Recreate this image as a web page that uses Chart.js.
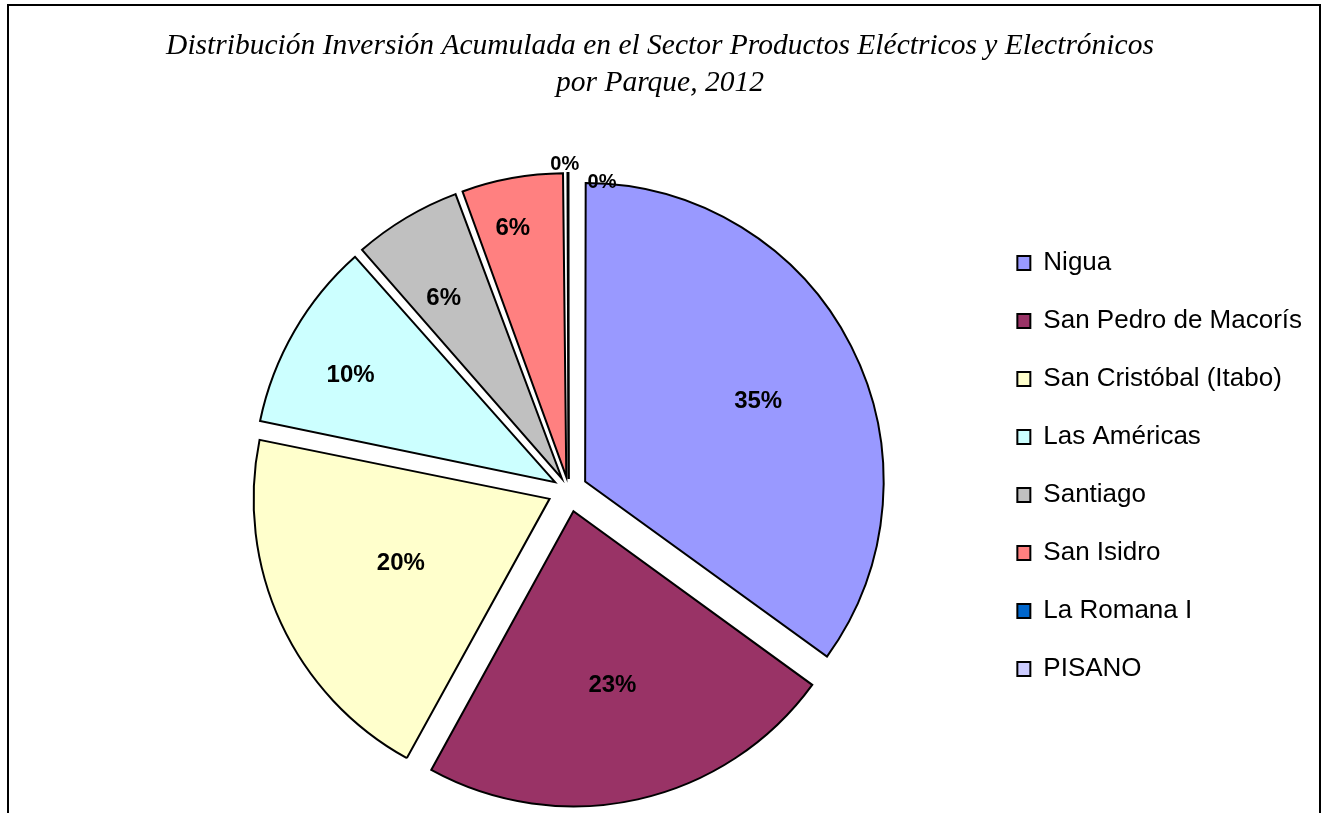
<!DOCTYPE html>
<html>
<head>
<meta charset="utf-8">
<script src="https://cdn.jsdelivr.net/npm/chart.js@4.4.0/dist/chart.umd.min.js"></script>
<style>
    html, body { margin: 0; padding: 0; background: #fff; }
</style>
</head>
<body>
<canvas id="pieChart" width="1321" height="813"></canvas>
<script>
// Datos
const parques = ['Nigua', 'San Pedro de Macorís', 'San Cristóbal (Itabo)', 'Las Américas', 'Santiago', 'San Isidro', 'La Romana I', 'PISANO'];
const inversion = [35.0, 23.0, 20.2, 10.3, 5.88, 5.52, 0.08, 0.02];
const colores = ['#9999FF', '#993366', '#FFFFCC', '#CCFFFF', '#C0C0C0', '#FF8080', '#0066CC', '#CCCCFF'];
const titulo = ['Distribución Inversión Acumulada en el Sector Productos Eléctricos y Electrónicos', 'por Parque, 2012'];

// where each percentage label sits: fraction of radius from slice tip + small turn (degrees)
const labelRadius = [0.635, 0.605, 0.546, 0.761, 0.702, 0.834, 1.03, 0.976];
const labelTurn = [2.1, 0, 1.5, -2.5, -2.5, -1.9, -0.5, 6.7];

const EXPLODE = 22;   // px every slice is pulled out
const RADIUS = 295;
const CENTER_X = 568;
const total = inversion.reduce((a, b) => a + b, 0);

const legendFont = { family: '"Liberation Sans", Arial, sans-serif', size: 26 };
const LEGEND_PAD = 32, BOX_W = 13, BOX_H = 14, BOX_X = 1016;

// work out the legend width so the pie, title and legend land where they should
const mctx = document.createElement('canvas').getContext('2d');
mctx.font = legendFont.size + 'px ' + legendFont.family;
const maxText = Math.max(...parques.map(p => mctx.measureText(p).width));
const legendW = LEGEND_PAD + BOX_W + legendFont.size / 2 + maxText + 10;
const legendLeft = BOX_X - LEGEND_PAD;
const padRight = 1321 - legendLeft - legendW;
const padLeft = padRight - 1;
const spacer = 2 * CENTER_X - padLeft - legendLeft;

// Chart.js moves an arc by offset/4*(1+fix); undo that so all slices move the same
function sliceOffset(c) {
    const circ = 2 * Math.PI * c.raw / total;
    const fix = 1 - Math.sin(Math.min(Math.PI, circ));
    return 4 * EXPLODE / (1 + fix);
}

// white background + frame
const marco = {
    id: 'marco',
    beforeDraw(chart) {
        const ctx = chart.ctx;
        ctx.save();
        ctx.fillStyle = '#fff';
        ctx.fillRect(0, 0, chart.width, chart.height);
        ctx.strokeStyle = '#000';
        ctx.lineWidth = 2;
        ctx.beginPath();
        ctx.moveTo(8, chart.height);
        ctx.lineTo(8, 5);
        ctx.lineTo(1320, 5);
        ctx.lineTo(1320, chart.height);
        ctx.stroke();
        ctx.restore();
    }
};

// percentage labels
const etiquetas = {
    id: 'etiquetas',
    afterDatasetsDraw(chart) {
        const ctx = chart.ctx;
        const meta = chart.getDatasetMeta(0);
        ctx.save();
        ctx.fillStyle = '#000';
        ctx.textAlign = 'center';
        ctx.textBaseline = 'middle';
        meta.data.forEach((arc, i) => {
            const p = arc.getProps(['x', 'y', 'startAngle', 'endAngle', 'outerRadius']);
            const mid = (p.startAngle + p.endAngle) / 2;
            const tip = { x: p.x + Math.cos(mid) * EXPLODE, y: p.y + Math.sin(mid) * EXPLODE };
            const a = mid + labelTurn[i] * Math.PI / 180;
            const d = labelRadius[i] * p.outerRadius;
            const pct = Math.round(inversion[i] / total * 100);
            ctx.font = 'bold ' + (inversion[i] < 1 ? 20 : 24) + 'px "Liberation Sans", Arial, sans-serif';
            ctx.fillText(pct + '%', tip.x + Math.cos(a) * d, tip.y + Math.sin(a) * d);
        });
        ctx.restore();
    }
};

const ctx = document.getElementById('pieChart').getContext('2d');
const pieChart = new Chart(ctx, {
    type: 'pie',
    data: {
        labels: parques,
        datasets: [{
            data: inversion,
            backgroundColor: colores,
            borderColor: '#000',
            borderWidth: 2,
            borderJoinStyle: 'miter',
            offset: sliceOffset
        }]
    },
    options: {
        responsive: false,
        animation: false,
        events: [],
        radius: RADIUS,
        layout: { padding: { left: padLeft, right: padRight, top: 0, bottom: 51 } },
        plugins: {
            title: {
                display: true,
                text: titulo,
                color: '#000',
                font: { family: '"Liberation Serif", "Times New Roman", serif', size: 29.5, style: 'italic', weight: 'normal', lineHeight: '37px' },
                padding: { top: 27.5, bottom: 116.5 }
            },
            // empty left box, only used as a spacer to push the pie right
            subtitle: {
                display: true,
                text: '',
                position: 'left',
                fullSize: false,
                font: { size: 1, lineHeight: '0px' },
                padding: { top: spacer, bottom: 0 }
            },
            legend: {
                position: 'right',
                align: 'start',
                fullSize: false,
                labels: {
                    boxWidth: BOX_W,
                    boxHeight: BOX_H,
                    padding: LEGEND_PAD,
                    color: '#000',
                    font: legendFont
                }
            },
            tooltip: { enabled: false }
        }
    },
    plugins: [marco, etiquetas]
});
</script>
</body>
</html>
